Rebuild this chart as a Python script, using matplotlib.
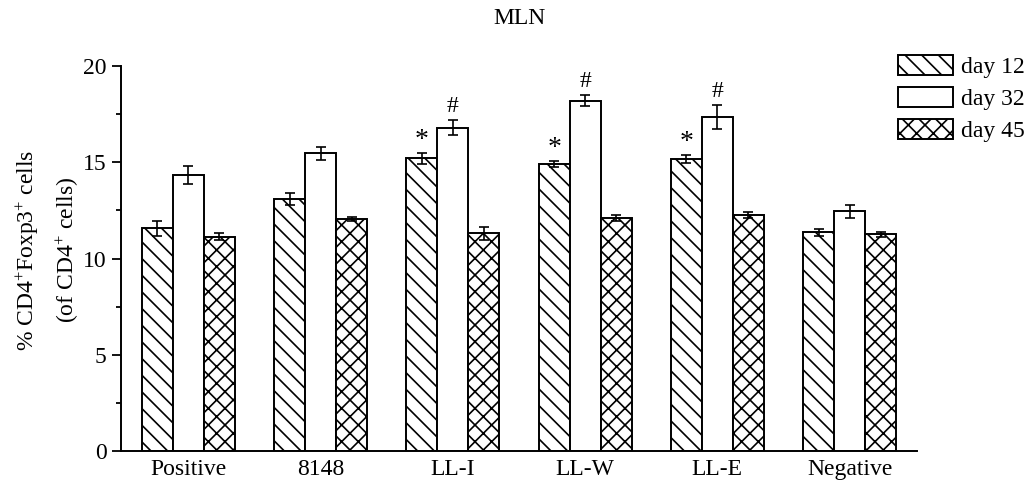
import matplotlib
matplotlib.use("Agg")
import matplotlib.pyplot as plt
import numpy as np

plt.rcParams['font.family'] = ['Liberation Serif', 'DejaVu Serif']
plt.rcParams['mathtext.fontset'] = 'custom'
plt.rcParams['mathtext.rm'] = 'Liberation Serif'
plt.rcParams['mathtext.it'] = 'Liberation Serif:italic'
plt.rcParams['hatch.linewidth'] = 1.2

categories = ["Positive", "8148", "LL-I", "LL-W", "LL-E", "Negative"]
series_names = ["day 12", "day 32", "day 45"]
day12 = [11.57, 13.10, 15.20, 14.90, 15.17, 11.36]
day12_err = [0.40, 0.30, 0.30, 0.17, 0.20, 0.17]
day32 = [14.34, 15.46, 16.80, 18.20, 17.35, 12.45]
day32_err = [0.48, 0.35, 0.40, 0.30, 0.62, 0.33]
day45 = [11.12, 12.04, 11.30, 12.10, 12.26, 11.26]
day45_err = [0.18, 0.10, 0.35, 0.15, 0.15, 0.14]
star_marks = ["", "", "*", "*", "*", ""]
hash_marks = ["", "", "#", "#", "#", ""]

FS = 17

fig = plt.figure(figsize=(10.25, 4.86), dpi=100)
ax = fig.add_axes([121/1025, 1-451/486, (917-121)/1025, (451-66)/486])

x = np.arange(len(categories))
w = 0.234
hatches = ['\\\\', '', 'xx']
handles = []
for i, (vals, errs) in enumerate([(day12, day12_err), (day32, day32_err), (day45, day45_err)]):
    b = ax.bar(x + (i-1)*w, vals, w, facecolor='white', edgecolor='black',
               linewidth=1.4, hatch=hatches[i], label=series_names[i], zorder=2)
    ax.errorbar(x + (i-1)*w, vals, yerr=errs, fmt='none', ecolor='black',
                elinewidth=1.2, capsize=3.6, capthick=1.2, zorder=3)
    handles.append(b)

for xi, v, e, m in zip(x, day12, day12_err, star_marks):
    if m:
        ax.annotate(m, (xi - w, v + e), xytext=(0, 0), textcoords='offset points',
                    ha='center', va='bottom', fontsize=20)
for xi, v, e, m in zip(x, day32, day32_err, hash_marks):
    if m:
        ax.annotate(m, (xi, v + e), xytext=(0, 2), textcoords='offset points',
                    ha='center', va='bottom', fontsize=FS)

ax.set_xlim(-0.51, 5.51)
ax.set_ylim(0, 20)
ax.set_xticks(x)
ax.set_xticklabels(categories, fontsize=FS)
ax.set_yticks([0, 5, 10, 15, 20])
ax.set_yticks([2.5, 7.5, 12.5, 17.5], minor=True)
ax.tick_params(axis='y', which='major', length=6.5, width=1.3, labelsize=FS, direction='out', pad=4)
ax.tick_params(axis='y', which='minor', length=3.5, width=1.3, direction='out')
ax.tick_params(axis='x', length=0, pad=6)
for s in ['top', 'right']:
    ax.spines[s].set_visible(False)
for s in ['left', 'bottom']:
    ax.spines[s].set_linewidth(1.4)

fig.text(519/1025, 1-18/486, "MLN", ha='center', va='center', fontsize=FS)
fig.text(28/1025, 1-250/486, r"% CD4$^{+}$Foxp3$^{+}$ cells", rotation=90,
         ha='center', va='center', fontsize=FS)
fig.text(68/1025, 1-250/486, r"(of CD4$^{+}$ cells)", rotation=90,
         ha='center', va='center', fontsize=FS)

fig.legend(handles=handles, loc='upper left', bbox_to_anchor=(898/1025, 1-55/486),
           frameon=False, fontsize=FS, handlelength=2.35, handleheight=0.95,
           labelspacing=0.37, handletextpad=0.3, borderpad=0, borderaxespad=0)

fig.savefig("out.png", dpi=100)
